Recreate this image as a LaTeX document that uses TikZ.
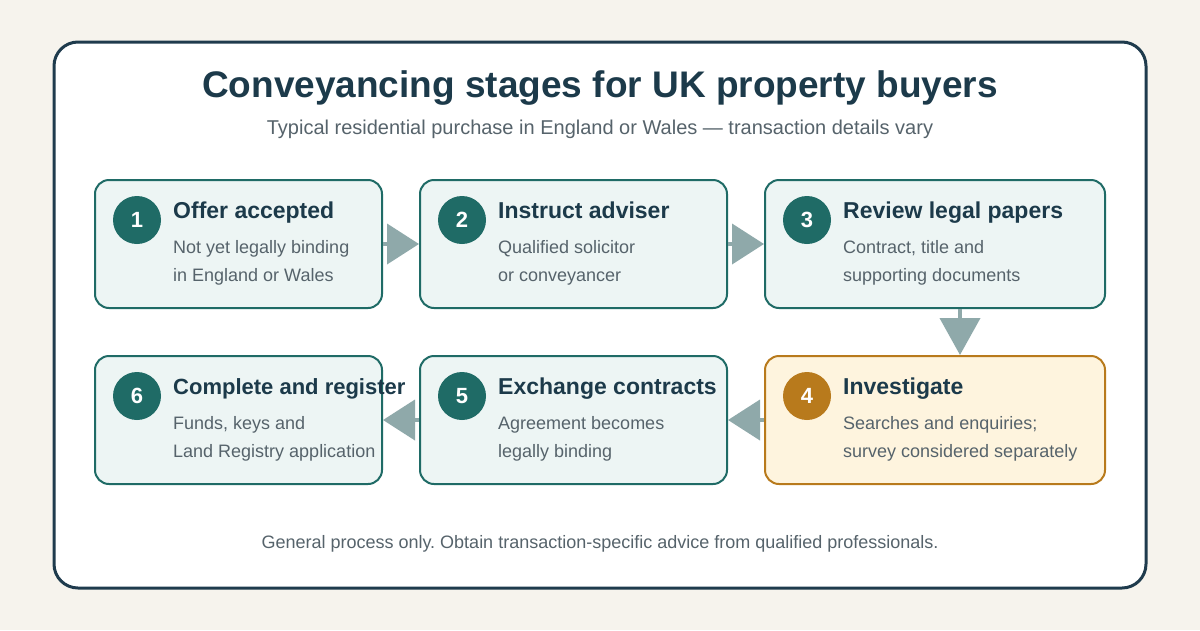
\documentclass[tikz,border=0pt]{standalone}
\usepackage{fontspec}
\setmainfont{Liberation Sans}
\frenchspacing
\definecolor{pagebg}{RGB}{246, 243, 237}
\definecolor{framenavy}{RGB}{31, 59, 77}
\definecolor{titlenavy}{RGB}{28, 58, 74}
\definecolor{bodygray}{RGB}{86, 99, 107}
\definecolor{stageteal}{RGB}{31, 107, 102}
\definecolor{stagefill}{RGB}{237, 245, 244}
\definecolor{checkgold}{RGB}{184, 122, 28}
\definecolor{checkfill}{RGB}{254, 244, 222}
\definecolor{arrowgray}{RGB}{143, 169, 170}
\usepackage{tikz}
\usetikzlibrary{arrows.meta, positioning}

\begin{document}
\begin{tikzpicture}[x=1pt, y=-1pt,
  stage/.style={draw=stageteal, fill=stagefill, line width=2pt, rounded corners=14pt, minimum height=128pt},
  badge/.style={circle, fill=stageteal, minimum size=48pt, inner sep=0pt, text=white, font=\fontsize{22}{26}\selectfont\bfseries},
  head/.style={anchor=base west, inner sep=0pt, text=titlenavy, font=\fontsize{23}{28}\selectfont\bfseries},
  note/.style={anchor=base west, inner sep=0pt, text=bodygray, align=left, font=\fontsize{18}{28}\selectfont},
  arrow/.style={-{Triangle[length=32pt, width=40pt]}, line width=4pt, draw=arrowgray}
]
  % Page and frame
  \fill[pagebg] (0,0) rectangle (1200,630);
  \draw[framenavy, line width=3pt, fill=white, rounded corners=24pt] (54,42) rectangle (1146,588);

  % Title
  \node[text=titlenavy, font=\fontsize{37}{42}\selectfont\bfseries, anchor=base] (title) at (600,97) {Conveyancing stages for UK property buyers};
  \node[text=bodygray, font=\fontsize{20}{24}\selectfont, anchor=base] (subtitle) at (600,134) {Typical residential purchase in England or Wales --- transaction details vary};

  % Stage 1
  \node[stage, minimum width=287pt] (offer) at (238.5,244) {};
  \node[badge] (n1) at (137,220) {1};
  \node[head] (h1) at (173,218) {Offer accepted};
  \node[note] (t1) at (173,281) {Not yet legally binding\\in England or Wales};

  % Stage 2
  \node[stage, minimum width=307pt] (instruct) at (573.5,244) {};
  \node[badge] (n2) at (462,220) {2};
  \node[head] (h2) at (498,218) {Instruct adviser};
  \node[note] (t2) at (498,281) {Qualified solicitor\\or conveyancer};

  % Stage 3
  \node[stage, minimum width=340pt] (review) at (935,244) {};
  \node[badge] (n3) at (807,220) {3};
  \node[head] (h3) at (843,218) {Review legal papers};
  \node[note] (t3) at (843,281) {Contract, title and\\supporting documents};

  % Stage 4
  \node[stage, draw=checkgold, fill=checkfill, minimum width=340pt] (investigate) at (935,420) {};
  \node[badge, fill=checkgold] (n4) at (807,396) {4};
  \node[head] (h4) at (843,394) {Investigate};
  \node[note] (t4) at (843,457) {Searches and enquiries;\\survey considered separately};

  % Stage 5
  \node[stage, minimum width=307pt] (exchange) at (573.5,420) {};
  \node[badge] (n5) at (462,396) {5};
  \node[head] (h5) at (498,394) {Exchange contracts};
  \node[note] (t5) at (498,457) {Agreement becomes\\legally binding};

  % Stage 6
  \node[stage, minimum width=287pt] (complete) at (238.5,420) {};
  \node[badge] (n6) at (137,396) {6};
  \node[head, font=\fontsize{22}{28}\selectfont\bfseries] (h6) at (173,394) {Complete and register};
  \node[note] (t6) at (173,457) {Funds, keys and\\Land Registry application};

  % Flow
  \draw[arrow] (offer) -- (instruct);
  \draw[arrow] (instruct) -- (review);
  \draw[arrow, -{Triangle[length=37pt, width=40pt]}] ([xshift=25pt]review.south) -- ([xshift=25pt]investigate.north);
  \draw[arrow] (investigate) -- (exchange);
  \draw[arrow] (exchange) -- (complete);

  % Footer
  \node[text=bodygray, font=\fontsize{18}{22}\selectfont, anchor=base] (footer) at (600,548) {General process only. Obtain transaction-specific advice from qualified professionals.};
\end{tikzpicture}
\end{document}
